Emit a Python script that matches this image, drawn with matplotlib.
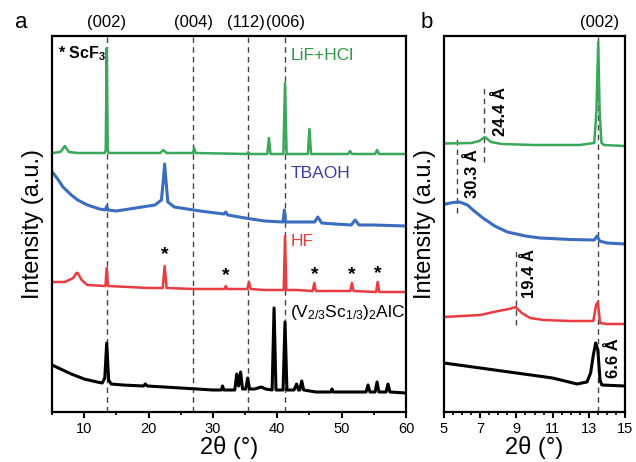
import matplotlib
matplotlib.use("Agg")
import matplotlib.pyplot as plt
from matplotlib.ticker import MultipleLocator

plt.rcParams['font.family'] = ['Liberation Sans', 'DejaVu Sans']
plt.rcParams['mathtext.fontset'] = 'custom'
plt.rcParams['mathtext.rm'] = 'Liberation Sans'
plt.rcParams['mathtext.bf'] = 'Liberation Sans:bold'

# ---- panel a: wide-angle scans (2theta 5-60) ----
lif_x = [5, 6.3, 7.0, 7.6, 9, 13.2, 13.35, 13.5, 13.65, 13.8, 21.8, 22.3, 22.8, 26.9, 27.1, 27.3,
         35.3, 35.5, 35.7, 38.45, 38.7, 38.95, 40.95, 41.2, 41.45, 44.75, 45.0, 45.25,
         51.0, 51.3, 51.6, 55.2, 55.5, 55.8, 60]
lif_y = [259, 260, 266, 260, 259, 259, 262, 364, 262, 259, 259, 262, 259, 259, 264, 259,
         258, 260, 258, 258, 274, 258, 258, 329, 258, 258, 283, 258,
         258, 261, 258, 258, 262, 258, 258]

tba_x = [5.05, 6, 6.7, 8, 9, 10.5, 12.4, 13.3, 13.5, 13.7, 15, 18, 21, 22.0, 22.3, 22.5, 22.7, 23.0,
         24, 28, 31.7, 32.0, 32.3, 35, 38, 40.9, 41.1, 41.3, 44, 45.8, 46.3, 46.9, 49,
         51.5, 52.1, 52.7, 55, 60]
tba_y = [240, 232, 225, 217, 212, 207, 203, 202, 206, 202, 201, 204, 207, 212, 232, 248, 232, 210,
         205, 201, 198, 200, 197, 194, 191, 190, 202, 190, 190, 190, 195, 189, 188,
         187, 192, 187, 187, 186]

hf_x = [5, 7, 8.3, 8.8, 9.0, 9.6, 10.5, 13.3, 13.5, 13.7, 20, 22.2, 22.5, 22.8, 27, 31.8, 32.0, 32.2,
        35.35, 35.6, 35.85, 38, 41.0, 41.2, 41.4, 43, 45.5, 45.75, 46.0, 48.5,
        51.35, 51.6, 51.85, 55.35, 55.6, 55.85, 60]
hf_y = [130, 130, 134, 139, 139, 132, 127, 126, 144, 126, 124, 124, 146, 124, 123, 123, 126, 123,
        123, 130, 123, 122, 122, 176, 122, 122, 121, 129, 121, 121,
        121, 129, 121, 120, 130, 120, 120]

max_x = [5, 6, 8, 10, 12, 12.8, 13.2, 13.5, 13.8, 14.2, 16, 19.2, 19.5, 19.8, 25, 30,
         31.3, 31.5, 31.7, 33.4, 33.7, 34.0, 34.3, 34.6, 35.1, 35.4, 35.7, 36.5, 37.5, 38.2,
         39.2, 39.5, 39.8, 40.9, 41.2, 41.5, 42.6, 43.0, 43.3, 43.5, 43.8, 44.1, 46,
         48.3, 48.5, 48.7, 53.8, 54.1, 54.4, 55.2, 55.5, 55.8, 56.9, 57.2, 57.5, 60]
max_y = [47, 44, 38, 33, 30, 29, 34, 69, 32, 28, 27, 26, 28, 26, 24, 22,
         22, 26, 22, 22, 38, 26, 40, 23, 23, 34, 23, 23, 25, 23,
         22, 104, 22, 22, 90, 22, 22, 28, 22, 22, 31, 22, 20,
         20, 23, 20, 20, 27, 20, 20, 30, 20, 20, 28, 20, 19]

# reflections of the MAX phase and ScF3 impurity peaks
hkl_pos = [13.5, 27.05, 35.1, 41.25]
hkl_lab = ['(002)', '(004)', '(112)', '(006)']
hkl_line = [13.5, 26.9, 35.4, 41.2]
scf3_x = [22.5, 32.0, 45.8, 51.5, 55.6]
scf3_y = [157, 136, 137, 137, 138]

# ---- panel b: low-angle region (2theta 5-15) ----
lif_bx = [5, 6.5, 6.95, 7.25, 7.6, 8.2, 10, 12.5, 13.3, 13.42, 13.52, 13.6, 13.7, 13.85, 15]
lif_by = [268.5, 269, 271, 275, 270, 268, 267, 267, 269, 300, 370, 300, 269, 267, 266]

tba_bx = [5.1, 5.5, 5.85, 6.3, 6.6, 7.15, 7.8, 8.5, 9.5, 10.3, 12, 13.3, 13.45, 13.6, 14, 15]
tba_by = [208, 209.5, 210, 207, 202, 194, 186, 180, 176, 174, 172.5, 172, 176, 171, 169, 168]

hf_bx = [5, 6, 7, 8, 8.6, 8.95, 9.3, 9.75, 10.5, 12, 13.25, 13.4, 13.5, 13.62, 14, 15]
hf_by = [95, 96, 97, 101, 103, 105, 99, 94, 92, 91, 91, 107, 110, 89, 88, 88]

max_bx = [5, 7, 9, 11, 12.35, 12.9, 13.1, 13.25, 13.38, 13.5, 13.62, 13.72, 15]
max_by = [49, 44, 39, 34, 28, 30, 39, 57, 69, 62, 32, 27, 26]

# d-spacing markers
d_line_x = [5.72, 7.2, 8.98]
d_line_y0 = [199, 250, 87]
d_line_y1 = [275, 325, 162]
d_text_x = [6.6, 8.1, 9.75, 14.35]
d_text_y = [238, 300, 138, 54]
d_text = ['30.3 Å', '24.4 Å', '19.4 Å', '6.6 Å']

b_ticks = [5, 7, 9, 11, 13, 15]

green = '#3aa85a'
blue = '#3a6cc0'
red = '#ea3b40'
dash_kw = dict(color='#444444', lw=1.0, linestyle=(0, (4, 3)), zorder=1)

fig = plt.figure(figsize=(6.36, 4.62), dpi=100)
ax1 = fig.add_axes([52 / 636, 50 / 462, 354 / 636, 376 / 462])
ax2 = fig.add_axes([444 / 636, 50 / 462, 181 / 636, 376 / 462])

# panel a
for x in hkl_line:
    ax1.axvline(x, **dash_kw)
ax1.plot(lif_x, lif_y, color=green, lw=1.8)
ax1.plot(tba_x, tba_y, color=blue, lw=2.2)
ax1.plot(hf_x, hf_y, color=red, lw=1.8)
ax1.plot(max_x, max_y, color='black', lw=2.2)
for x, y in zip(scf3_x, scf3_y):
    ax1.text(x, y, '*', fontsize=14, ha='center', va='center', fontweight='bold')
for x, lab in zip(hkl_pos, hkl_lab):
    ax1.text(x, 389, lab, fontsize=12, ha='center', va='center')

ax1.text(42.0, 357, 'LiF+HCl', color='#2e9a48', fontsize=12.5, va='center')
ax1.text(42.0, 239, 'TBAOH', color='#3c3fa0', fontsize=12.5, va='center')
ax1.text(42.1, 170, 'HF', color=red, fontsize=12.5, va='center')
ax1.text(42.0, 99, r'$\mathregular{(V_{2/3}Sc_{1/3})_2AlC}$', fontsize=12.5, va='center')
ax1.text(5.9, 358, r'* ScF$_\mathbf{3}$', fontsize=11.5, fontweight='bold', va='center')

ax1.set_xlim(5, 60)
ax1.set_ylim(0, 376)
ax1.xaxis.set_major_locator(MultipleLocator(10))
ax1.xaxis.set_minor_locator(MultipleLocator(5))

# panel b
ax2.axvline(13.5, **dash_kw)
for x, y0, y1 in zip(d_line_x, d_line_y0, d_line_y1):
    ax2.plot([x, x], [y0, y1], **dash_kw)
ax2.plot(lif_bx, lif_by, color=green, lw=1.8)
ax2.plot(tba_bx, tba_by, color=blue, lw=2.2)
ax2.plot(hf_bx, hf_by, color=red, lw=1.8)
ax2.plot(max_bx, max_by, color='black', lw=2.2)
for x, y, lab in zip(d_text_x, d_text_y, d_text):
    ax2.text(x, y, lab, rotation=90, fontsize=12, fontweight='bold', ha='center', va='center')
ax2.text(13.6, 389, '(002)', fontsize=12, ha='center', va='center')

ax2.set_xlim(5, 15)
ax2.set_ylim(0, 376)
ax2.set_xticks(b_ticks)
ax2.xaxis.set_minor_locator(MultipleLocator(0.5))

for ax in (ax1, ax2):
    ax.set_yticks([])
    for s in ax.spines.values():
        s.set_linewidth(1.6)
    ax.tick_params(axis='x', which='major', direction='out', length=4, width=1.5, labelsize=10.5, pad=3)
    ax.tick_params(axis='x', which='minor', direction='out', length=2.5, width=1.2)
    ax.set_xlabel('2θ (°)', fontsize=17, labelpad=0)
    ax.set_ylabel('Intensity (a.u.)', fontsize=17, labelpad=6)

fig.text(21 / 636, 1 - 22 / 462, 'a', fontsize=16, ha='center', va='center')
fig.text(427 / 636, 1 - 22 / 462, 'b', fontsize=16, ha='center', va='center')

fig.savefig('out.png', dpi=100)
